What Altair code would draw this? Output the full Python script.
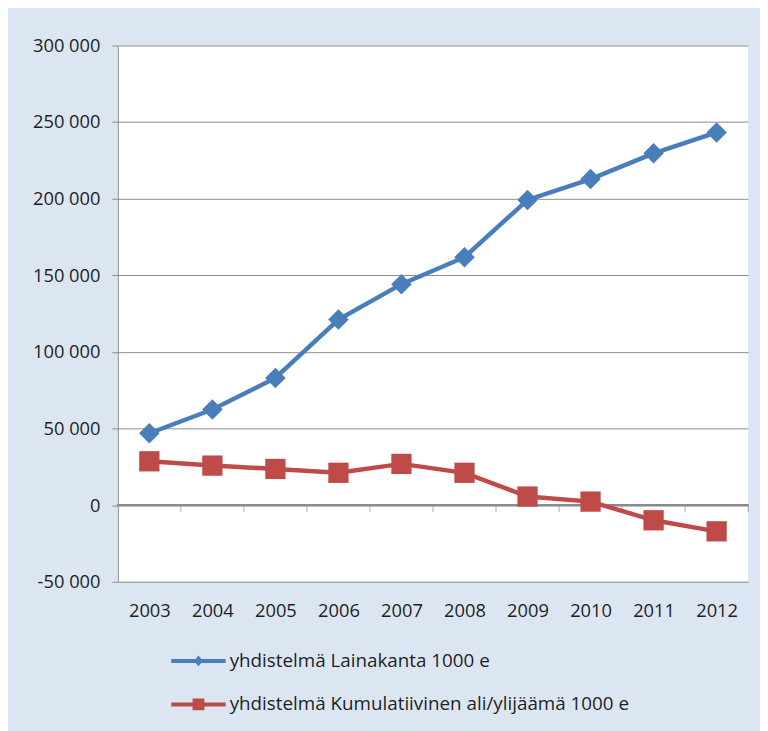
import altair as alt
import pandas as pd

years = [2003, 2004, 2005, 2006, 2007, 2008, 2009, 2010, 2011, 2012]
lainakanta = [46900, 62400, 83000, 121100, 144200, 161800, 199200, 212800, 229600, 243200]
kumulatiivinen = [28600, 25800, 23600, 21100, 26900, 21100, 5600, 2300, -9900, -17100]
series_names = ["yhdistelmä Lainakanta 1000 e",
                "yhdistelmä Kumulatiivinen ali/ylijäämä 1000 e"]
line_colors = ["#4A7EBB", "#BE4B48"]
y_ticks = [-50000, 0, 50000, 100000, 150000, 200000, 250000, 300000]

FONT = "Open Sans"
GRID = "#8C8C8C"
TEXT = "#1F1F1F"

rows = []
for y, a, b in zip(years, lainakanta, kumulatiivinen):
    rows.append({"year": y, "series": series_names[0], "value": a})
    rows.append({"year": y, "series": series_names[1], "value": b})
df = pd.DataFrame(rows)

bounds = pd.DataFrame({"b": [y + 0.5 for y in years]})

x_scale = alt.Scale(domain=[years[0] - 0.5, years[-1] + 0.5], nice=False, zero=False)
y_scale = alt.Scale(domain=[y_ticks[0], y_ticks[-1]], nice=False)
color_scale = alt.Scale(domain=series_names, range=line_colors)

legend_paths = [
    "M-2.75,-0.2L2.75,-0.2L2.75,0.2L-2.75,0.2Z"
    "M-0.45,0L0,-0.55L0.45,0L0,0.55Z",
    "M-2.75,-0.2L2.75,-0.2L2.75,0.2L-2.75,0.2Z"
    "M-0.6,-0.6L0.6,-0.6L0.6,0.6L-0.6,0.6Z",
]

x_enc = alt.X(
    "year:Q", scale=x_scale,
    axis=alt.Axis(values=years, format="d", ticks=False, domain=False, grid=False,
                  labelPadding=20, title=None),
)
y_enc = alt.Y(
    "value:Q", scale=y_scale,
    axis=alt.Axis(values=y_ticks, title=None, grid=True, gridColor=GRID,
                  domainColor=GRID, tickColor=GRID, tickSize=6, labelPadding=12,
                  labelExpr="replace(replace(format(datum.value, ','), ',', ' '), '\u2212', '-')"),
)

base = alt.Chart(df)

legend_layer = base.transform_filter("datum.value > 1e12").mark_point(
    filled=True, size=400, opacity=1
).encode(
    x=x_enc, y=y_enc,
    color=alt.Color("series:N", scale=color_scale,
                    legend=alt.Legend(title=None, orient="none", legendX=71.5,
                                      legendY=612, direction="vertical",
                                      rowPadding=24, labelOffset=21.5,
                                      symbolStrokeWidth=0, padding=0,
                                      labelFontSize=19, labelFont=FONT,
                                      labelColor=TEXT, labelLimit=600,
                                      symbolSize=400)),
    shape=alt.Shape("series:N", scale=alt.Scale(domain=series_names, range=legend_paths)),
)

zero_rule = alt.Chart(df).mark_rule(color=GRID, strokeWidth=1).encode(y=alt.datum(0))

tick_marks = alt.Chart(bounds).mark_tick(
    color=GRID, orient="vertical", size=7, thickness=1, yOffset=3.5
).encode(x=alt.X("b:Q", scale=x_scale), y=alt.datum(0))

lines = base.mark_line(strokeWidth=4.5).encode(
    x="year:Q", y="value:Q",
    color=alt.Color("series:N", scale=color_scale, legend=None),
    detail="series:N",
)

pts_a = base.transform_filter(alt.datum.series == series_names[0]).mark_point(
    shape="diamond", filled=True, size=430, opacity=1
).encode(x="year:Q", y="value:Q",
         color=alt.Color("series:N", scale=color_scale, legend=None))

pts_b = base.transform_filter(alt.datum.series == series_names[1]).mark_point(
    shape="square", filled=True, size=420, opacity=1
).encode(x="year:Q", y="value:Q",
         color=alt.Color("series:N", scale=color_scale, legend=None))

chart = alt.layer(legend_layer, zero_rule, tick_marks, lines, pts_a, pts_b).properties(
    width=637, height=542,
    padding={"left": 111, "top": 34, "right": 12, "bottom": 147},
    autosize=alt.AutoSizeParams(type="none"),
    background="#DCE6F2",
).configure_view(
    fill="white", stroke=None
).configure_axis(
    labelFont=FONT, labelFontSize=18.5, labelColor=TEXT
)

chart.save("out.html", embed_options={"renderer": "svg", "actions": False})
